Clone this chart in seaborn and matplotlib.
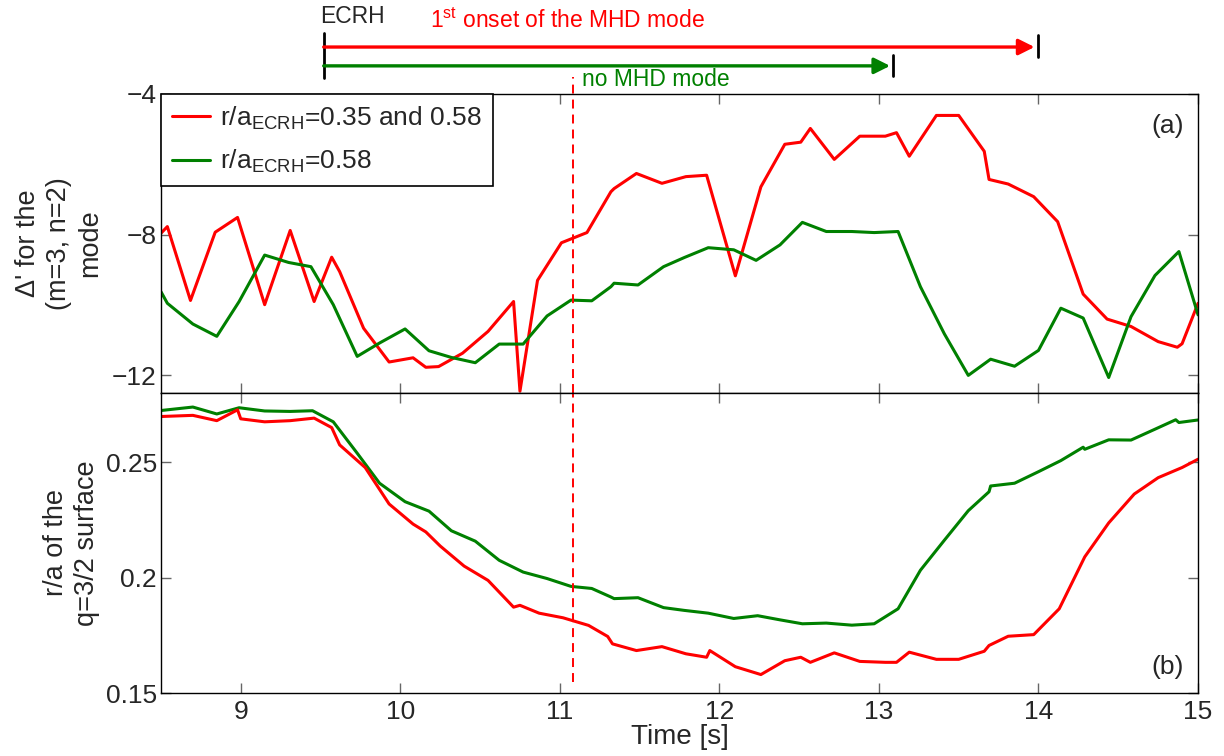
import numpy as np
import pandas as pd
import matplotlib
matplotlib.use("Agg")
import matplotlib.pyplot as plt
import seaborn as sns

# --- data ---
# (a) Delta' for the (m=3, n=2) mode
t_red_a = [8.50, 8.54, 8.685, 8.84, 8.98, 9.15, 9.31, 9.46, 9.57, 9.62, 9.77, 9.93,
           10.08, 10.16, 10.24, 10.39, 10.55, 10.71, 10.75, 10.86, 11.01, 11.17, 11.32,
           11.34, 11.48, 11.64, 11.79, 11.92, 12.10, 12.26, 12.41, 12.51, 12.57, 12.72,
           12.88, 13.04, 13.11, 13.19, 13.36, 13.50, 13.66, 13.69, 13.81, 13.97, 14.12,
           14.28, 14.43, 14.58, 14.75, 14.87, 14.90, 15.00]
red_a = [-7.96, -7.77, -9.87, -7.93, -7.51, -9.99, -7.88, -9.90, -8.64, -9.05, -10.66, -11.62,
         -11.50, -11.77, -11.75, -11.37, -10.75, -9.90, -12.45, -9.30, -8.23, -7.94, -6.78,
         -6.69, -6.26, -6.54, -6.35, -6.31, -9.17, -6.64, -5.43, -5.37, -4.98, -5.86,
         -5.20, -5.20, -5.10, -5.77, -4.61, -4.61, -5.63, -6.43, -6.56, -6.92, -7.63,
         -9.69, -10.40, -10.61, -11.04, -11.20, -11.10, -9.95]

t_green_a = [8.50, 8.54, 8.70, 8.85, 8.99, 9.15, 9.30, 9.44, 9.58, 9.73, 9.87, 10.03,
             10.18, 10.32, 10.47, 10.62, 10.77, 10.92, 11.07, 11.20, 11.32, 11.34, 11.49,
             11.65, 11.78, 11.93, 12.09, 12.23, 12.38, 12.52, 12.67, 12.83, 12.97, 13.12,
             13.26, 13.41, 13.56, 13.70, 13.85, 14.00, 14.14, 14.28, 14.44, 14.58, 14.73,
             14.88, 15.00]
green_a = [-9.62, -9.95, -10.54, -10.89, -9.90, -8.58, -8.79, -8.91, -9.99, -11.46, -11.08, -10.68,
           -11.30, -11.49, -11.64, -11.11, -11.11, -10.31, -9.86, -9.88, -9.48, -9.38, -9.43,
           -8.91, -8.65, -8.37, -8.43, -8.73, -8.29, -7.65, -7.91, -7.91, -7.94, -7.91,
           -9.48, -10.82, -12.00, -11.54, -11.74, -11.29, -10.09, -10.37, -12.06, -10.33, -9.16,
           -8.48, -10.28]

# (b) r/a of the q=3/2 surface
t_red_b = [8.50, 8.70, 8.85, 8.98, 9.00, 9.15, 9.31, 9.46, 9.57, 9.62, 9.78, 9.93,
           10.08, 10.16, 10.25, 10.40, 10.55, 10.71, 10.75, 10.87, 11.02, 11.18, 11.30,
           11.33, 11.48, 11.64, 11.79, 11.92, 11.94, 12.10, 12.26, 12.41, 12.51, 12.57,
           12.72, 12.88, 13.04, 13.11, 13.19, 13.36, 13.50, 13.66, 13.69, 13.81, 13.97,
           14.13, 14.29, 14.44, 14.60, 14.75, 14.90, 15.00]
red_b = [0.2698, 0.2703, 0.2680, 0.2727, 0.2688, 0.2675, 0.2680, 0.2691, 0.2650, 0.2575, 0.2477, 0.2319,
         0.2232, 0.2198, 0.2137, 0.2050, 0.1988, 0.1872, 0.1880, 0.1846, 0.1826, 0.1793, 0.1745,
         0.1713, 0.1684, 0.1701, 0.1670, 0.1655, 0.1684, 0.1614, 0.1580, 0.1640, 0.1655, 0.1633,
         0.1674, 0.1637, 0.1633, 0.1633, 0.1677, 0.1646, 0.1646, 0.1681, 0.1706, 0.1746, 0.1753,
         0.1865, 0.2090, 0.2237, 0.2362, 0.2433, 0.2477, 0.2513]

t_green_b = [8.50, 8.70, 8.85, 8.99, 9.15, 9.31, 9.45, 9.58, 9.73, 9.87, 10.03, 10.18,
             10.32, 10.47, 10.62, 10.77, 10.92, 11.07, 11.20, 11.32, 11.34, 11.49, 11.65,
             11.78, 11.93, 12.09, 12.24, 12.38, 12.52, 12.67, 12.83, 12.97, 13.12, 13.26,
             13.41, 13.56, 13.69, 13.70, 13.85, 14.00, 14.14, 14.28, 14.29, 14.44, 14.58,
             14.73, 14.86, 14.88, 15.00]
green_b = [0.2724, 0.2739, 0.2709, 0.2736, 0.2722, 0.2720, 0.2723, 0.2675, 0.2539, 0.2409, 0.2329, 0.2288,
           0.2203, 0.2158, 0.2075, 0.2024, 0.1996, 0.1962, 0.1953, 0.1916, 0.1909, 0.1913, 0.1870,
           0.1858, 0.1846, 0.1823, 0.1835, 0.1817, 0.1800, 0.1803, 0.1794, 0.1800, 0.1865, 0.2032,
           0.2162, 0.2290, 0.2372, 0.2397, 0.2409, 0.2459, 0.2507, 0.2565, 0.2556, 0.2597, 0.2596,
           0.2643, 0.2684, 0.2672, 0.2683]

label_red = r"r/a$_\mathregular{ECRH}$=0.35 and 0.58"
label_green = r"r/a$_\mathregular{ECRH}$=0.58"

t_ecrh = 9.52
t_mhd_onset = 13.975
t_no_mhd = 13.07
t_dashed = 11.08

RED = "#ff0000"
GREEN = "#008000"

sns.set_style("ticks")
plt.rcParams['font.family'] = ['Liberation Sans', 'DejaVu Sans']
plt.rcParams['mathtext.fontset'] = 'custom'
plt.rcParams['mathtext.rm'] = 'Liberation Sans'

fig = plt.figure(figsize=(12.24, 7.56), dpi=100)
ax_a = fig.add_axes([0.1315, 0.4802, 0.8473, 0.3955])
ax_b = fig.add_axes([0.1315, 0.0833, 0.8473, 0.3969])

df_red_a = pd.DataFrame({"Time": t_red_a, "val": red_a})
df_green_a = pd.DataFrame({"Time": t_green_a, "val": green_a})
df_red_b = pd.DataFrame({"Time": t_red_b, "val": red_b})
df_green_b = pd.DataFrame({"Time": t_green_b, "val": green_b})

sns.lineplot(data=df_red_a, x="Time", y="val", ax=ax_a, color=RED, lw=2.2,
             estimator=None, sort=False, label=label_red)
sns.lineplot(data=df_green_a, x="Time", y="val", ax=ax_a, color=GREEN, lw=2.2,
             estimator=None, sort=False, label=label_green)
sns.lineplot(data=df_green_b, x="Time", y="val", ax=ax_b, color=GREEN, lw=2.2,
             estimator=None, sort=False, legend=False)
sns.lineplot(data=df_red_b, x="Time", y="val", ax=ax_b, color=RED, lw=2.2,
             estimator=None, sort=False, legend=False)

xticks = [9, 10, 11, 12, 13, 14, 15]
for ax in (ax_a, ax_b):
    ax.set_xlim(8.5, 15)
    ax.set_xticks(xticks)
    ax.tick_params(direction="in", length=7, width=1, color="0.4", top=True, right=True,
                   labelsize=19)
    ax.tick_params(axis="x", pad=5)
    ax.tick_params(axis="y", pad=3)
    for s in ax.spines.values():
        s.set_color("black")
        s.set_linewidth(1.0)

ax_a.set_ylim(-12.5, -4)
ax_a.set_yticks([-12, -8, -4])
ax_a.set_xticklabels([])
ax_a.set_xlabel("")
ax_a.set_ylabel("\u0394' for the\n(m=3, n=2)\nmode", fontsize=19.5, linespacing=1.25)
ax_a.yaxis.set_label_coords(-0.056, 0.5)

ax_b.set_ylim(0.15, 0.28)
ax_b.set_yticks([0.15, 0.2, 0.25])
ax_b.set_yticklabels(["0.15", "0.2", "0.25"])
ax_b.set_xlabel("Time [s]", fontsize=20, labelpad=0)
ax_b.set_ylabel("r/a of the\nq=3/2 surface", fontsize=19.5, linespacing=1.25)
ax_b.yaxis.set_label_coords(-0.059, 0.5)

ax_a.text(0.9865, 0.893, "(a)", transform=ax_a.transAxes, ha="right", va="center", fontsize=19)
ax_b.text(0.9865, 0.087, "(b)", transform=ax_b.transAxes, ha="right", va="center", fontsize=19)

leg = ax_a.legend(loc="upper left", bbox_to_anchor=(0, 1), borderaxespad=0, fancybox=False,
                  edgecolor="black", framealpha=1, fontsize=19, handlelength=1.45,
                  handletextpad=0.4, borderpad=0.4, labelspacing=0.6)
leg.get_frame().set_linewidth(1.2)

# dashed line marking the MHD onset across both panels
ax_a.axvline(t_dashed, ymin=0, ymax=1.057, color=RED, ls=(0, (4.6, 3.1)), lw=1.4, clip_on=False)
ax_b.axvline(t_dashed, ymin=0.037, ymax=1, color=RED, ls=(0, (4.6, 3.1)), lw=1.4, clip_on=False)

# timing bars above the top panel
tr = ax_a.get_xaxis_transform()
ax_a.annotate("", xy=(t_mhd_onset, 1.157), xytext=(t_ecrh, 1.157), xycoords=tr, textcoords=tr,
              arrowprops=dict(arrowstyle="-|>", color=RED, lw=2.4, mutation_scale=24,
                              shrinkA=0, shrinkB=0))
ax_a.annotate("", xy=(t_no_mhd, 1.094), xytext=(t_ecrh, 1.094), xycoords=tr, textcoords=tr,
              arrowprops=dict(arrowstyle="-|>", color=GREEN, lw=2.4, mutation_scale=24,
                              shrinkA=0, shrinkB=0))
ax_a.plot([t_ecrh, t_ecrh], [1.054, 1.204], transform=tr, color="black", lw=2, clip_on=False)
ax_a.plot([14.0, 14.0], [1.124, 1.197], transform=tr, color="black", lw=2, clip_on=False)
ax_a.plot([13.09, 13.09], [1.060, 1.130], transform=tr, color="black", lw=2, clip_on=False)

ax_a.text(t_ecrh - 0.02, 1.259, "ECRH", transform=tr, ha="left", va="center", fontsize=16.5)
ax_a.text(11.045, 1.246, r"1$^\mathregular{st}$ onset of the MHD mode", transform=tr,
          ha="center", va="center", fontsize=16.5, color=RED)
ax_a.text(11.6, 1.048, "no MHD mode", transform=tr, ha="center", va="center",
          fontsize=16.5, color=GREEN)

fig.savefig("out.png", dpi=100)
